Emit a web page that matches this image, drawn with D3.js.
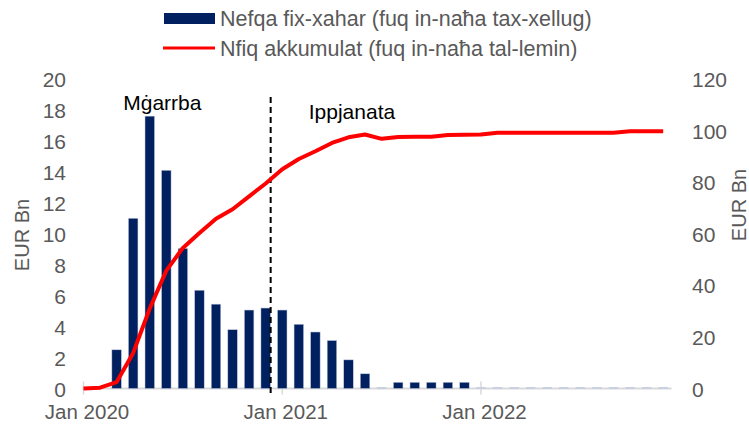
<!DOCTYPE html>
<meta charset="utf-8">
<style>

body {
  margin: 0;
  background: #fff;
}

text {
  font-family: "Liberation Sans", Arial, sans-serif;
}

.tick text {
  font-size: 21px;
  fill: #595959;
}

</style>
<body>
</body>
<script src="https://cdn.jsdelivr.net/npm/d3@7"></script>
<script>

// monthly, Jan 2020 .. Dec 2022 (index 0..35)
var monthly = [null, null, 2.5, 11.0, 17.6, 14.1, 9.05, 6.35, 5.45, 3.8, 5.07, 5.2,
               5.07, 4.15, 3.65, 3.1, 1.85, 0.95, 0, 0.4, 0.4, 0.4, 0.4, 0.4,
               0, 0, 0, 0, 0, 0, 0, 0, 0, 0, 0, 0];
var cumulative = [0, 0.3, 2.5, 13.8, 31, 45.7, 54.5, 60.3, 65.8, 69.5, 74.5, 79.5,
                  85, 89, 92, 95.2, 97.4, 98.5, 96.8, 97.5, 97.6, 97.6, 98.3, 98.4,
                  98.5, 99.2, 99.2, 99.2, 99.2, 99.2, 99.2, 99.2, 99.2, 99.7, 99.7, 99.7];
var xTickMonths = [0, 12, 24];
var xTickLabels = ["Jan 2020", "Jan 2021", "Jan 2022"];
var leftTicks = [0, 2, 4, 6, 8, 10, 12, 14, 16, 18, 20];
var rightTicks = [0, 20, 40, 60, 80, 100, 120];
var splitMonth = 11.3;
var legendLabels = ["Nefqa fix-xahar (fuq in-naħa tax-xellug)", "Nfiq akkumulat (fuq in-naħa tal-lemin)"];
var annotations = [{text: "Mġarrba", month: 2.4, value: 17.8}, {text: "Ippjanata", month: 13.6, value: 17.2}];

var w = 749,
    h = 424,
    navy = "#002060",
    red = "#ff0000";

var x = d3.scaleLinear().domain([0, 24]).range([83.5, 481]);
var y = d3.scaleLinear().domain([0, 20]).range([388.5, 79]);
var y2 = d3.scaleLinear().domain([0, 120]).range([388.5, 79]);
var bw = 9.5;

var svg = d3.select("body").append("svg")
    .attr("width", w)
    .attr("height", h);

// axis line
svg.append("line")
    .attr("x1", x(0) - 1)
    .attr("x2", x(35.5))
    .attr("y1", y(0))
    .attr("y2", y(0))
    .attr("stroke", "#d9d9d9")
    .attr("stroke-width", 2);

svg.selectAll(".xt")
    .data(xTickMonths)
  .enter().append("line")
    .attr("x1", function(d) { return x(d); })
    .attr("x2", function(d) { return x(d); })
    .attr("y1", y(0) - 7)
    .attr("y2", y(0) + 6)
    .attr("stroke", "#d9d9d9")
    .attr("stroke-width", 1.5);

// bars
var bars = monthly.map(function(v, i) { return {i: i, v: v}; })
    .filter(function(d) { return d.v !== null; });

svg.selectAll(".bar")
    .data(bars)
  .enter().append("rect")
    .attr("x", function(d) { return x(d.i) - bw / 2; })
    .attr("width", bw)
    .attr("y", function(d) { return d.v > 0 ? y(d.v) : y(0) - 1.5; })
    .attr("height", function(d) { return d.v > 0 ? y(0) - y(d.v) : 2; })
    .attr("fill", function(d) { return d.v > 0 ? navy : "#c9d0e0"; })
    .attr("stroke", function(d) { return d.v > 0 ? "#c0c8dc" : "none"; })
    .attr("stroke-width", 0.5);

// split line
svg.append("line")
    .attr("x1", x(splitMonth))
    .attr("x2", x(splitMonth))
    .attr("y1", 97)
    .attr("y2", 394)
    .attr("stroke", "#000")
    .attr("stroke-width", 2)
    .attr("stroke-dasharray", "6,4");

// cumulative line
var line = d3.line()
    .x(function(d, i) { return x(i); })
    .y(function(d) { return y2(d); });

svg.append("path")
    .datum(cumulative)
    .attr("d", line)
    .attr("fill", "none")
    .attr("stroke", red)
    .attr("stroke-width", 4)
    .attr("stroke-linejoin", "round");

// axes
var gl = svg.append("g")
    .attr("transform", "translate(66,0)")
    .call(d3.axisLeft(y).tickValues(leftTicks).tickSize(0).tickPadding(0));
gl.select(".domain").remove();
gl.selectAll(".tick text").attr("dy", "0.36em");

var gr = svg.append("g")
    .attr("transform", "translate(692,0)")
    .call(d3.axisRight(y2).tickValues(rightTicks).tickSize(0).tickPadding(0));
gr.select(".domain").remove();
gr.selectAll(".tick text").attr("dy", "0.36em");

var gx = svg.append("g")
    .attr("transform", "translate(3,419)")
    .call(d3.axisBottom(x).tickValues(xTickMonths).tickSize(0).tickPadding(0)
      .tickFormat(function(d, i) { return xTickLabels[i]; }));
gx.select(".domain").remove();
gx.selectAll(".tick text").attr("dy", "0").style("font-size", "20.5px");

// axis titles
svg.append("text")
    .attr("transform", "translate(29,235) rotate(-90)")
    .attr("text-anchor", "middle")
    .attr("font-size", 20)
    .attr("fill", "#595959")
    .text("EUR Bn");

svg.append("text")
    .attr("transform", "translate(746,205) rotate(-90)")
    .attr("text-anchor", "middle")
    .attr("font-size", 20)
    .attr("fill", "#595959")
    .text("EUR Bn");

// annotations
svg.selectAll(".ann")
    .data(annotations)
  .enter().append("text")
    .attr("x", function(d) { return x(d.month); })
    .attr("y", function(d) { return y(d.value) - 3; })
    .attr("font-size", 21)
    .attr("fill", "#000")
    .text(function(d) { return d.text; });

// legend
var lg = svg.append("g");
lg.append("rect")
    .attr("x", 164).attr("y", 13)
    .attr("width", 51).attr("height", 11)
    .attr("fill", navy);
lg.append("line")
    .attr("x1", 163).attr("x2", 215)
    .attr("y1", 48).attr("y2", 48)
    .attr("stroke", red).attr("stroke-width", 3);
lg.selectAll(".lt")
    .data(legendLabels)
  .enter().append("text")
    .attr("x", 220)
    .attr("y", function(d, i) { return 18 + i * 30; })
    .attr("dy", "0.36em")
    .attr("font-size", 21.5)
    .attr("fill", "#595959")
    .text(function(d) { return d; });

</script>
